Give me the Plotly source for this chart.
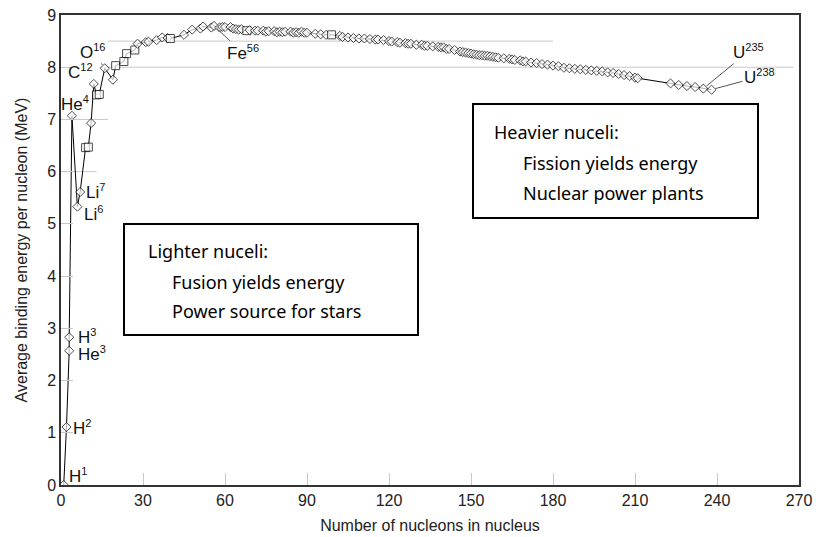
import plotly.graph_objects as go

# ---------------- data ----------------
nucleons = [1, 2, 3, 3, 4, 6, 7, 9, 10, 11, 12, 13, 14, 16, 19, 20, 23, 24, 27, 28,
            31, 32, 35, 37, 39, 40, 45, 48, 51, 52, 55, 56, 58, 59, 60, 62, 63, 64, 65, 66,
            68, 69, 71, 72, 74, 75, 76, 78, 79, 80, 81, 82, 84, 85, 86, 87, 88, 89, 90, 93,
            95, 97, 99, 102, 103, 105, 107, 109, 111, 113, 115, 116, 118, 120, 121, 123, 124, 126, 127, 128,
            130, 132, 133, 134, 136, 138, 139, 140, 141, 142, 144, 146, 147, 148, 149, 150, 151, 152, 153, 154,
            155, 156, 157, 158, 159, 160, 162, 164, 165, 166, 168, 169, 170, 172, 174, 176, 178, 180, 182, 184,
            186, 188, 190, 192, 194, 196, 198, 200, 202, 204, 206, 208, 210, 211, 223, 226, 229, 232, 235, 238]
binding = [0.00, 1.11, 2.57, 2.83, 7.07, 5.33, 5.61, 6.46, 6.47, 6.93, 7.68, 7.47, 7.48, 7.98, 7.76, 8.03, 8.11, 8.26, 8.33, 8.45,
           8.48, 8.49, 8.52, 8.57, 8.56, 8.55, 8.62, 8.72, 8.74, 8.78, 8.76, 8.79, 8.76, 8.77, 8.77, 8.77, 8.74, 8.73, 8.72, 8.73,
           8.70, 8.71, 8.70, 8.70, 8.70, 8.68, 8.69, 8.69, 8.67, 8.68, 8.67, 8.68, 8.68, 8.66, 8.67, 8.66, 8.68, 8.66, 8.66, 8.64,
           8.63, 8.62, 8.62, 8.60, 8.58, 8.57, 8.56, 8.55, 8.55, 8.54, 8.53, 8.53, 8.52, 8.50, 8.49, 8.48, 8.47, 8.46, 8.45, 8.45,
           8.43, 8.43, 8.41, 8.41, 8.40, 8.39, 8.38, 8.38, 8.35, 8.35, 8.33, 8.30, 8.29, 8.28, 8.27, 8.26, 8.25, 8.24, 8.23, 8.23,
           8.22, 8.22, 8.21, 8.20, 8.19, 8.18, 8.17, 8.16, 8.15, 8.14, 8.13, 8.11, 8.11, 8.09, 8.08, 8.06, 8.05, 8.03, 8.02, 7.99,
           7.98, 7.97, 7.96, 7.95, 7.94, 7.93, 7.92, 7.90, 7.89, 7.87, 7.85, 7.83, 7.80, 7.79, 7.69, 7.66, 7.64, 7.62, 7.59, 7.57]
square_nucleons = [9, 10, 13, 14, 20, 23, 24, 27, 40, 68, 99]

x_ticks = [0, 30, 60, 90, 120, 150, 180, 210, 240, 270]
y_ticks = [0, 1, 2, 3, 4, 5, 6, 7, 8, 9]


def iso(sym, mass):
    return f"{sym}<sup><span style='font-size:11px'>{mass}</span></sup>"


# labels attached to points: (A, E, text, xanchor, xshift, yshift)
point_labels = [
    (1, 0.00, iso("H", 1), "left", 3, 10),
    (2, 1.11, iso("H", 2), "left", 5, 0),
    (3, 2.83, iso("H", 3), "left", 7, 1),
    (3, 2.57, iso("He", 3), "left", 7, -3),
    (4, 7.07, iso("He", 4), "center", 3, 12),
    (7, 5.61, iso("Li", 7), "left", 4, 1),
    (6, 5.33, iso("Li", 6), "left", 5, -7),
]
# labels with leader lines: (A, E, text, ax, ay)
leader_labels = [
    (56, 8.79, iso("Fe", 56), 29, 27),
    (12, 7.68, iso("C", 12), -13, -12),
    (16, 7.98, iso("O", 16), -12, -17),
    (235, 7.59, iso("U", 235), 45, -37),
    (238, 7.57, iso("U", 238), 48, -13),
]

# ---------------- figure ----------------
symbols = ["square" if a in square_nucleons else "diamond" for a in nucleons]
sizes = [8 if s == "square" else 7 for s in symbols]

fig = go.Figure()
fig.add_trace(go.Scatter(
    x=nucleons, y=binding, mode="lines+markers",
    line=dict(color="black", width=1),
    marker=dict(symbol=symbols, size=sizes, color="white",
                line=dict(color="black", width=1)),
    showlegend=False, hoverinfo="x+y",
))

FONT = "Liberation Sans, Arial, sans-serif"
GRID = "#c8c8c8"

# partial reference lines seen in the picture
ref_lines = [(8.5, 17.2, 180), (8, 14.3, 268), (7, 0, 17.2), (6, 0, 13)]
for yv, x0, x1 in ref_lines:
    fig.add_shape(type="line", x0=x0, x1=x1, y0=yv, y1=yv, xref="x", yref="y",
                  line=dict(color=GRID, width=1), layer="below")

annotations = []
for a, e, t, xa, xs, ys in point_labels:
    annotations.append(dict(x=a, y=e, text=t, showarrow=False, xanchor=xa,
                            xshift=xs, yshift=ys, font=dict(family=FONT, size=17, color="#111")))
for a, e, t, ax, ay in leader_labels:
    annotations.append(dict(x=a, y=e, text=t, showarrow=True, arrowhead=0, arrowwidth=1,
                            arrowcolor="#555", ax=ax, ay=ay, standoff=4,
                            font=dict(family=FONT, size=17, color="#111")))

# page has an 8px body margin, so the figure is drawn 8px in from the window corner
OFF = 8
W, H = 833 - OFF, 537 - OFF
ML, MR, MT, MB = 61 - OFF, 34, 15 - OFF, 52
PW, PH = W - ML - MR, H - MT - MB


def px(xp):
    return (xp - OFF - ML) / PW


def py(yp):
    return 1 - (yp - OFF - MT) / PH


BOXFONT = "Noto Sans, Open Sans, sans-serif"
boxes = [
    (124, 224, 418, 335, [("Lighter nuceli:", 146, 251), ("Fusion yields energy", 170, 282),
                          ("Power source for stars", 170, 311)]),
    (473, 104, 758, 218, [("Heavier nuceli:", 492, 132), ("Fission yields energy", 521, 163),
                          ("Nuclear power plants", 521, 193)]),
]
for x0, y0, x1, y1, lines in boxes:
    fig.add_shape(type="rect", xref="paper", yref="paper", x0=px(x0), x1=px(x1),
                  y0=py(y1), y1=py(y0), line=dict(color="black", width=2), fillcolor="white")
    for t, xl, yc in lines:
        annotations.append(dict(xref="paper", yref="paper", x=px(xl), y=py(yc), text=t,
                                showarrow=False, xanchor="left", yanchor="middle",
                                font=dict(family=BOXFONT, size=18, color="black")))

fig.update_layout(
    width=W, height=H,
    margin=dict(l=ML, r=MR, t=MT, b=MB, autoexpand=False),
    paper_bgcolor="white", plot_bgcolor="white",
    annotations=annotations,
    xaxis=dict(range=[0, 270], tickvals=x_ticks, showgrid=False, zeroline=False, automargin=False,
               showline=True, mirror=True, linecolor="#333", linewidth=1.5,
               ticks="inside", ticklen=12, tickcolor=GRID, tickwidth=1,
               ticklabeloverflow="allow",
               tickfont=dict(family=FONT, size=16, color="#222"),
               title=dict(text="Number of nucleons in nucleus", font=dict(family=FONT, size=16, color="#222"),
                          standoff=12)),
    yaxis=dict(range=[0, 9], tickvals=y_ticks, showgrid=False, zeroline=False, automargin=False,
               showline=True, mirror=True, linecolor="#333", linewidth=1.5,
               ticks="inside", ticklen=12, tickcolor=GRID, tickwidth=1,
               ticklabeloverflow="allow",
               tickfont=dict(family=FONT, size=16, color="#222"),
               title=dict(text="Average binding energy per nucleon (MeV)",
                          font=dict(family=FONT, size=16, color="#222"), standoff=16)),
)

fig.write_html("out.html")
